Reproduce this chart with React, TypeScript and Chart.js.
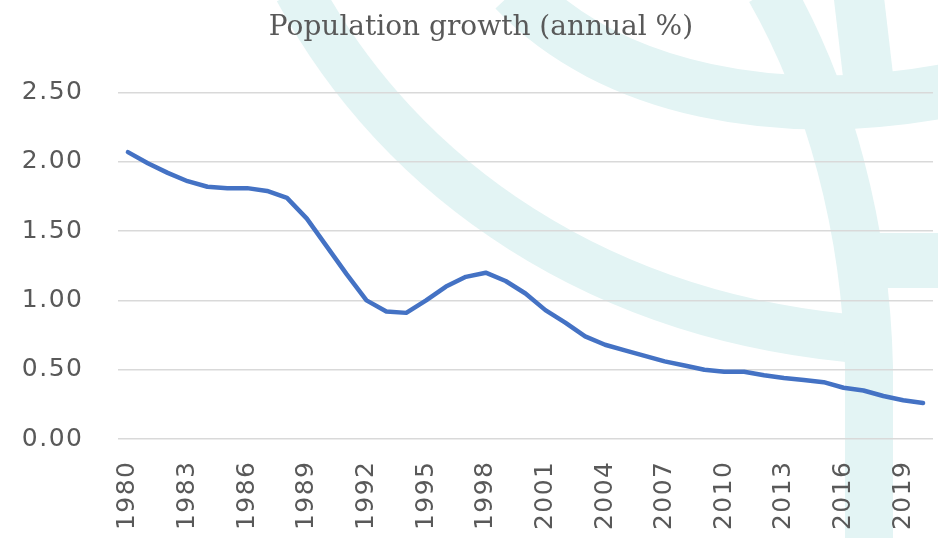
import React, { useEffect, useRef } from "react";
import { Chart, registerables } from "chart.js";

Chart.register(...registerables);

const years: string[] = [
  "1980", "1981", "1982", "1983", "1984", "1985", "1986", "1987", "1988", "1989",
  "1990", "1991", "1992", "1993", "1994", "1995", "1996", "1997", "1998", "1999",
  "2000", "2001", "2002", "2003", "2004", "2005", "2006", "2007", "2008", "2009",
  "2010", "2011", "2012", "2013", "2014", "2015", "2016", "2017", "2018", "2019",
  "2020",
];

const growth: number[] = [
  2.07, 1.99, 1.92, 1.86, 1.82, 1.81, 1.81, 1.79, 1.74, 1.59,
  1.39, 1.19, 1.0, 0.92, 0.91, 1.0, 1.1, 1.17, 1.2, 1.14,
  1.05, 0.93, 0.84, 0.74, 0.68, 0.64, 0.6, 0.56, 0.53, 0.5,
  0.485, 0.485, 0.46, 0.44, 0.425, 0.41, 0.37, 0.35, 0.31, 0.28,
  0.26,
];

const yTicks: number[] = [0, 0.5, 1.0, 1.5, 2.0, 2.5];

const TITLE = "Population growth (annual %)";
const TICK_SPACING = "1.5px";

const watermark = {
  id: "watermark",
  beforeLayout(chart: any) {
    (chart.ctx as any).letterSpacing = TICK_SPACING;
  },
  beforeDraw(chart: any) {
    const ctx = chart.ctx as CanvasRenderingContext2D;
    (ctx as any).letterSpacing = TICK_SPACING;
    const w = chart.width;
    const h = chart.height;
    ctx.save();
    ctx.fillStyle = "#ffffff";
    ctx.fillRect(0, 0, w, h);
    ctx.strokeStyle = "#e3f4f4";
    ctx.fillStyle = "#e3f4f4";
    ctx.lineCap = "butt";
    // lower arc
    ctx.lineWidth = 48;
    ctx.beginPath();
    ctx.moveTo(298, -10);
    ctx.bezierCurveTo(400, 180, 600, 320, 870, 340);
    ctx.stroke();
    // upper arc
    ctx.lineWidth = 54;
    ctx.beginPath();
    ctx.moveTo(515, -10);
    ctx.bezierCurveTo(610, 90, 780, 125, 960, 88);
    ctx.stroke();
    // stem
    ctx.lineWidth = 48;
    ctx.beginPath();
    ctx.moveTo(770, -10);
    ctx.bezierCurveTo(830, 95, 866, 230, 869, 367);
    ctx.lineTo(869, h + 10);
    ctx.stroke();
    // right arm
    ctx.lineWidth = 50;
    ctx.beginPath();
    ctx.moveTo(858, -10);
    ctx.lineTo(872, 110);
    ctx.stroke();
    // horizontal bar
    ctx.fillRect(870, 233, w - 870, 55);
    ctx.restore();
  },
  afterDraw(chart: any) {
    const ctx = chart.ctx as CanvasRenderingContext2D;
    ctx.save();
    (ctx as any).letterSpacing = "0px";
    ctx.fillStyle = "#595959";
    ctx.font = "normal 28px 'DejaVu Serif'";
    ctx.textAlign = "center";
    ctx.textBaseline = "alphabetic";
    ctx.fillText(TITLE, 481, 35);
    ctx.restore();
  },
};

export default function App() {
  const canvasRef = useRef<HTMLCanvasElement | null>(null);

  useEffect(() => {
    document.body.style.margin = "0";
    const canvas = canvasRef.current;
    if (!canvas) return;
    const chart = new Chart(canvas, {
      type: "line",
      data: {
        labels: years,
        datasets: [
          {
            label: TITLE,
            data: growth,
            borderColor: "#4472C4",
            backgroundColor: "#4472C4",
            borderWidth: 4.5,
            pointRadius: 0,
            tension: 0,
            borderJoinStyle: "round",
            borderCapStyle: "round",
            fill: false,
          },
        ],
      },
      options: {
        animation: false,
        responsive: true,
        maintainAspectRatio: false,
        layout: { padding: { left: 0, right: 5, top: 92.5, bottom: 0 } },
        plugins: {
          legend: { display: false },
          tooltip: { enabled: false },
          title: { display: false },
        },
        scales: {
          x: {
            offset: true,
            grid: { display: false, drawTicks: false },
            border: { display: false },
            afterFit: (scale: any) => {
              scale.height = 99;
              scale.paddingLeft = 0;
              scale.paddingRight = 0;
            },
            ticks: {
              autoSkip: false,
              maxRotation: 90,
              minRotation: 90,
              padding: 21.5,
              color: "#595959",
              font: { family: "'DejaVu Sans'", size: 25 },
              callback: (_v: any, i: number) => (i % 3 === 0 ? years[i] : null),
            },
          },
          y: {
            min: 0,
            max: 2.5,
            afterFit: (scale: any) => {
              scale.width = 118;
              scale.paddingTop = 0;
              scale.paddingBottom = 0;
            },
            afterBuildTicks: (scale: any) => {
              scale.ticks = yTicks.map((v) => ({ value: v }));
            },
            grid: { color: "#d9d9d9", lineWidth: 1.4, drawTicks: false },
            border: { display: false },
            ticks: {
              padding: 34.5,
              color: "#595959",
              font: { family: "'DejaVu Sans'", size: 25 },
              callback: (v: any) => Number(v).toFixed(2),
            },
          },
        },
      },
      plugins: [watermark],
    });
    return () => chart.destroy();
  }, []);

  return (
    <div style={{ width: 938, height: 538, position: "relative" }}>
      <canvas ref={canvasRef} />
    </div>
  );
}
